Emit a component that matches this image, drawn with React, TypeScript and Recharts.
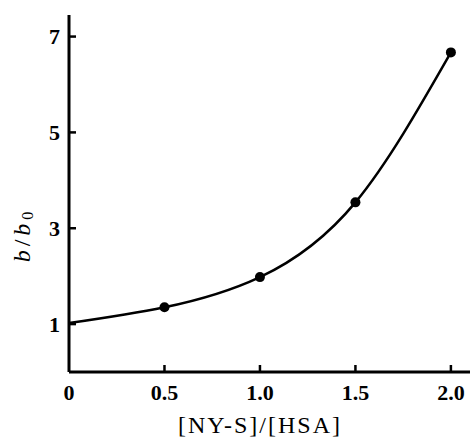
import { ComposedChart, Line, XAxis, YAxis } from 'recharts';

// ratio [NY-S]/[HSA] and relative value b/b0
const ratios = [0, 0.5, 1.0, 1.5, 2.0];
const bOverB0 = [1.02, 1.35, 1.98, 3.54, 6.67];
// the first point (x = 0) is where the curve starts, it has no marker
const measured = [false, true, true, true, true];

const xTicks = [0, 0.5, 1.0, 1.5, 2.0];
const yTicks = [1, 3, 5, 7];

const data = ratios.map((x, i) => ({ x, y: bOverB0[i], measured: measured[i] }));

const FONT = "'Liberation Serif', 'Times New Roman', serif";

function XTick({ x, y, payload }: any) {
  const v = payload.value;
  return (
    <g>
      {v !== 0 && <line x1={x} y1={y} x2={x} y2={y - 7} stroke="#000" strokeWidth={2.5} />}
      <text
        x={x}
        y={y + 28}
        textAnchor="middle"
        style={{ fontFamily: FONT, fontSize: 22, fontWeight: 'bold' }}
        fill="#000"
      >
        {v === 0 ? '0' : v.toFixed(1)}
      </text>
    </g>
  );
}

function YTick({ x, y, payload }: any) {
  return (
    <g>
      <line x1={x} y1={y} x2={x + 7} y2={y} stroke="#000" strokeWidth={2.5} />
      <text
        x={x - 9}
        y={y}
        dy="0.35em"
        textAnchor="end"
        style={{ fontFamily: FONT, fontSize: 22, fontWeight: 'bold' }}
        fill="#000"
      >
        {payload.value}
      </text>
    </g>
  );
}

function renderDot(props: any) {
  const { cx, cy, index, payload } = props;
  if (!payload.measured) return <g key={`d-${index}`} />;
  return <circle key={`d-${index}`} cx={cx} cy={cy} r={5} fill="#000" />;
}

function YLabel() {
  const cx = 22;
  const cy = 235;
  return (
    <text
      x={cx}
      y={cy}
      transform={`rotate(-90, ${cx}, ${cy})`}
      textAnchor="middle"
      dominantBaseline="central"
      style={{ fontFamily: FONT, fontSize: 24, letterSpacing: 4 }}
      fill="#000"
    >
      <tspan fontStyle="italic">b</tspan>
      <tspan>/</tspan>
      <tspan fontStyle="italic">b</tspan>
      <tspan fontSize={16} dy={5}>0</tspan>
    </text>
  );
}

function XLabel() {
  return (
    <text
      x={260}
      y={433}
      textAnchor="middle"
      style={{ fontFamily: FONT, fontSize: 24, letterSpacing: 2 }}
      fill="#000"
    >
      [NY-S]/[HSA]
    </text>
  );
}

export default function App() {
  return (
    <div style={{ position: 'absolute', left: 0, top: 0, background: '#fff' }}>
      <ComposedChart
        width={472}
        height={440}
        data={data}
        margin={{ top: 15, right: 2, bottom: 0, left: 0 }}
      >
        <XAxis
          dataKey="x"
          type="number"
          domain={[0, 2.1]}
          ticks={xTicks}
          allowDataOverflow
          height={68}
          tickSize={0}
          tickMargin={0}
          tickLine={false}
          axisLine={{ stroke: '#000', strokeWidth: 3 }}
          tick={<XTick />}
          label={{ content: () => <XLabel /> }}
        />
        <YAxis
          type="number"
          domain={[0, 7.45]}
          ticks={yTicks}
          allowDataOverflow
          width={69}
          tickSize={0}
          tickMargin={0}
          tickLine={false}
          axisLine={{ stroke: '#000', strokeWidth: 3 }}
          tick={<YTick />}
          label={{ content: () => <YLabel /> }}
        />
        <Line
          dataKey="y"
          type="natural"
          stroke="#000"
          strokeWidth={2.5}
          dot={renderDot}
          activeDot={false}
          isAnimationActive={false}
        />
      </ComposedChart>
    </div>
  );
}
